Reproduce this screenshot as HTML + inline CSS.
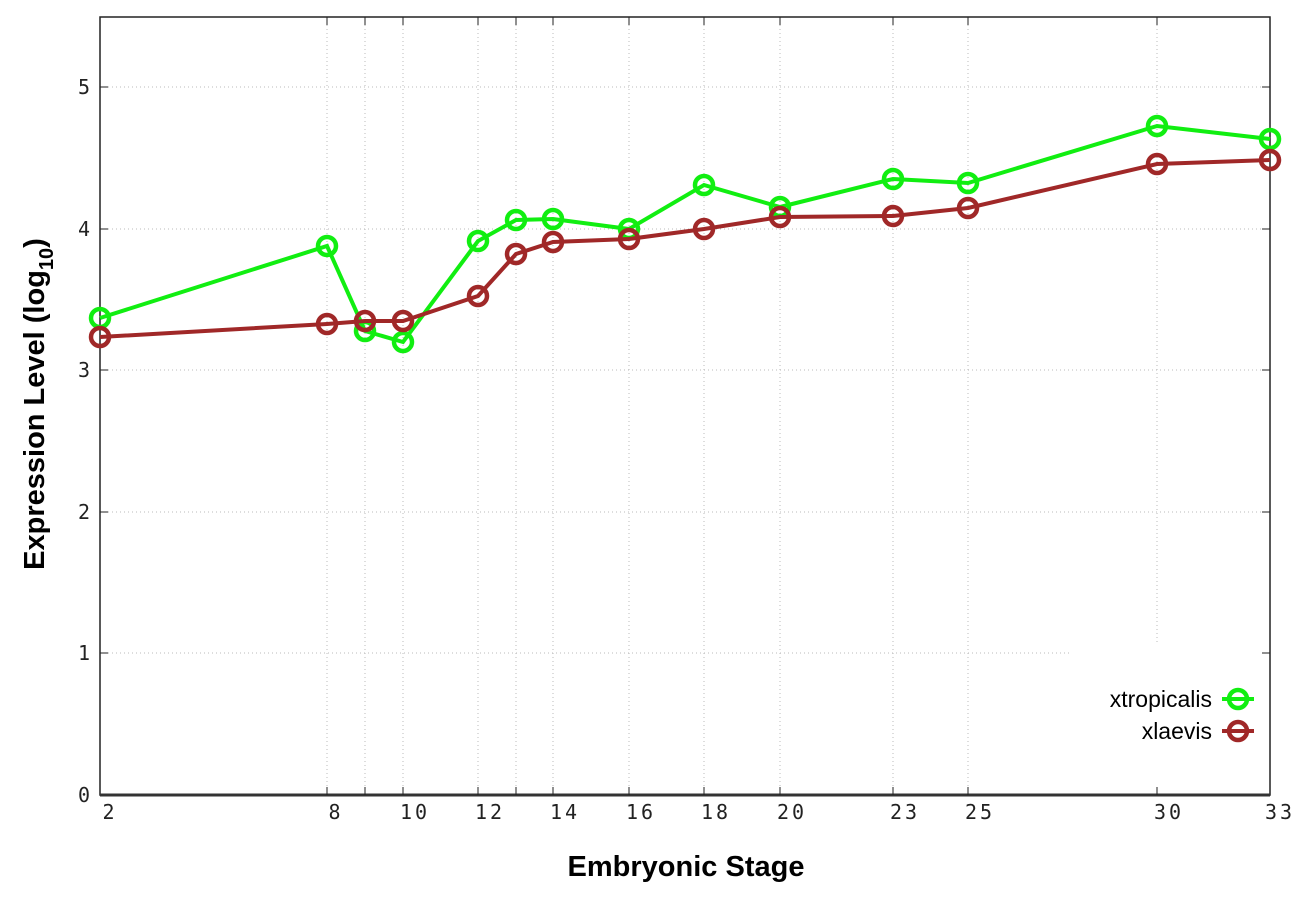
<!DOCTYPE html>
<html><head><style>body{margin:0;background:#fff}</style></head><body>
<svg width="1296" height="907" xmlns="http://www.w3.org/2000/svg">
<rect width="1296" height="907" fill="#fff"/>
<g stroke="#bbb" stroke-width="1" stroke-dasharray="1,3">
<line x1="100" y1="87" x2="1270" y2="87"/><line x1="100" y1="229" x2="1270" y2="229"/>
<line x1="100" y1="370" x2="1270" y2="370"/><line x1="100" y1="512" x2="1270" y2="512"/>
<line x1="100" y1="653" x2="1270" y2="653"/>
<line x1="327" y1="17" x2="327" y2="795"/><line x1="365" y1="17" x2="365" y2="795"/>
<line x1="403" y1="17" x2="403" y2="795"/><line x1="478" y1="17" x2="478" y2="795"/>
<line x1="516" y1="17" x2="516" y2="795"/><line x1="553" y1="17" x2="553" y2="795"/>
<line x1="629" y1="17" x2="629" y2="795"/><line x1="704" y1="17" x2="704" y2="795"/>
<line x1="780" y1="17" x2="780" y2="795"/><line x1="893" y1="17" x2="893" y2="795"/>
<line x1="968" y1="17" x2="968" y2="795"/><line x1="1157" y1="17" x2="1157" y2="795"/>
</g>
<rect x="1072" y="643" width="196" height="150" fill="#fff"/>
<rect x="100" y="17" width="1170" height="778" fill="none" stroke="#222" stroke-width="1.5"/>
<line x1="100" y1="795" x2="1270" y2="795" stroke="#333" stroke-width="3"/>
<g stroke="#222" stroke-width="1">
<path d="M100 87h8M100 229h8M100 370h8M100 512h8M100 653h8M1270 87h-8M1270 229h-8M1270 370h-8M1270 512h-8M1270 653h-8"/>
<path d="M327 795v-8M365 795v-8M403 795v-8M478 795v-8M516 795v-8M553 795v-8M629 795v-8M704 795v-8M780 795v-8M893 795v-8M968 795v-8M1157 795v-8M327 17v8M365 17v8M403 17v8M478 17v8M516 17v8M553 17v8M629 17v8M704 17v8M780 17v8M893 17v8M968 17v8M1157 17v8"/>
</g>
<g font-family="DejaVu Sans Mono, Liberation Mono, monospace" font-size="20" font-weight="300" fill="#222" text-anchor="end">
<text x="90" y="802">0</text><text x="90" y="660">1</text><text x="90" y="519">2</text>
<text x="90" y="377">3</text><text x="90" y="236">4</text><text x="90" y="94">5</text>
</g>
<g font-family="DejaVu Sans Mono, Liberation Mono, monospace" font-size="20" fill="#222" text-anchor="middle" letter-spacing="3">
<text x="110" y="819">2</text><text x="336" y="819">8</text>
<text x="415" y="819">10</text><text x="490" y="819">12</text>
<text x="565" y="819">14</text><text x="641" y="819">16</text><text x="716" y="819">18</text>
<text x="792" y="819">20</text><text x="905" y="819">23</text><text x="980" y="819">25</text>
<text x="1169" y="819">30</text><text x="1280" y="819">33</text>
</g>
<text x="686" y="876" font-family="Liberation Sans, sans-serif" font-weight="bold" font-size="29" text-anchor="middle" fill="#000">Embryonic Stage</text>
<text transform="translate(44,404) rotate(-90)" font-family="Liberation Sans, sans-serif" font-weight="bold" font-size="29" text-anchor="middle" fill="#000">Expression Level (log<tspan font-size="20" dy="9">10</tspan><tspan dy="-9">)</tspan></text>
<g fill="none" stroke="#11ee11" stroke-width="4">
<polyline points="100,318 327,246 365,331 403,342 478,241 516,220 553,219 629,229 704,185 780,207 893,179 968,183 1157,126 1270,139"/>
<g stroke-width="4.5"><circle cx="100" cy="318" r="9"/><circle cx="327" cy="246" r="9"/><circle cx="365" cy="331" r="9"/><circle cx="403" cy="342" r="9"/><circle cx="478" cy="241" r="9"/><circle cx="516" cy="220" r="9"/><circle cx="553" cy="219" r="9"/><circle cx="629" cy="229" r="9"/><circle cx="704" cy="185" r="9"/><circle cx="780" cy="207" r="9"/><circle cx="893" cy="179" r="9"/><circle cx="968" cy="183" r="9"/><circle cx="1157" cy="126" r="9"/><circle cx="1270" cy="139" r="9"/></g>
<line x1="1222" y1="699" x2="1254" y2="699"/><circle cx="1238" cy="699" r="9" stroke-width="4.5"/>
</g>
<g fill="none" stroke="#a02828" stroke-width="4">
<polyline points="100,337 327,324 365,321 403,321 478,296 516,254 553,242 629,239 704,229 780,217 893,216 968,208 1157,164 1270,160"/>
<g stroke-width="4.5"><circle cx="100" cy="337" r="9"/><circle cx="327" cy="324" r="9"/><circle cx="365" cy="321" r="9"/><circle cx="403" cy="321" r="9"/><circle cx="478" cy="296" r="9"/><circle cx="516" cy="254" r="9"/><circle cx="553" cy="242" r="9"/><circle cx="629" cy="239" r="9"/><circle cx="704" cy="229" r="9"/><circle cx="780" cy="217" r="9"/><circle cx="893" cy="216" r="9"/><circle cx="968" cy="208" r="9"/><circle cx="1157" cy="164" r="9"/><circle cx="1270" cy="160" r="9"/></g>
<line x1="1222" y1="731" x2="1254" y2="731"/><circle cx="1238" cy="731" r="9" stroke-width="4.5"/>
</g>
<g font-family="Liberation Sans, sans-serif" font-size="23" fill="#000" text-anchor="end">
<text x="1212" y="707">xtropicalis</text><text x="1212" y="739">xlaevis</text>
</g>
</svg>
</body></html>
